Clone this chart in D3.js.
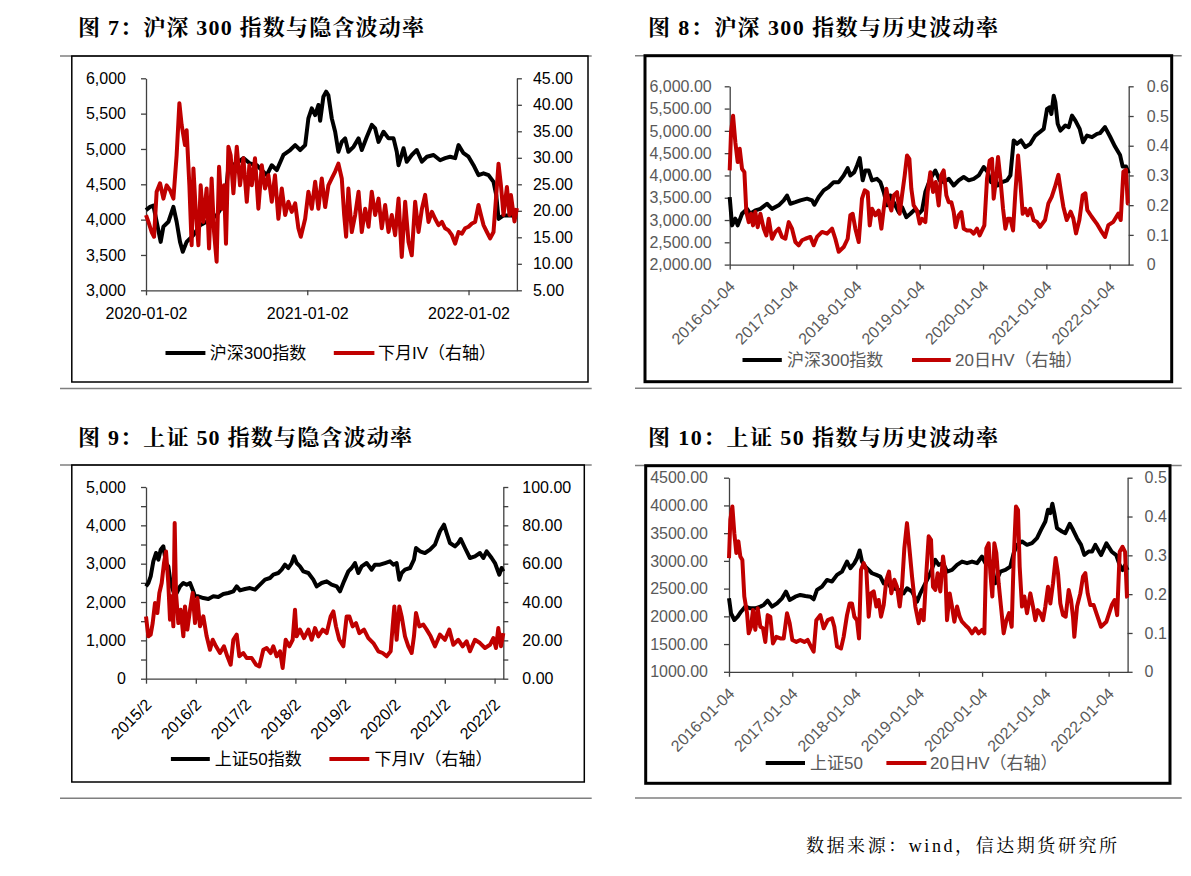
<!DOCTYPE html>
<html>
<head>
<meta charset="utf-8">
<script src="https://cdn.jsdelivr.net/npm/d3@7"></script>
<style>
  body { margin: 0; background: #fff; }
  svg { display: block; }
</style>
</head>
<body>
<svg></svg>
<script>
// time is kept as decimal years

// 图7 沪深300 (left) and 下月IV (right)
const hs300_7 = [[2020.000,4134],[2020.025,4180],[2020.046,4200],[2020.066,3970],[2020.091,3685],[2020.108,3900],[2020.139,3970],[2020.170,4180],[2020.190,3970],[2020.211,3685],[2020.228,3545],[2020.252,3685],[2020.294,3780],[2020.335,3920],[2020.376,3970],[2020.438,4060],[2020.490,4250],[2020.511,4750],[2020.563,4800],[2020.604,4870],[2020.645,4795],[2020.687,4770],[2020.718,4700],[2020.749,4630],[2020.780,4770],[2020.811,4700],[2020.852,4915],[2020.894,4985],[2020.925,5055],[2020.956,4985],[2020.987,5055],[2021.007,5433],[2021.028,5575],[2021.049,5480],[2021.069,5622],[2021.080,5400],[2021.100,5740],[2021.117,5811],[2021.131,5760],[2021.152,5433],[2021.173,5244],[2021.193,4960],[2021.214,5100],[2021.235,5150],[2021.255,4960],[2021.287,5030],[2021.318,5150],[2021.338,4985],[2021.369,5170],[2021.400,5340],[2021.421,5290],[2021.442,5100],[2021.473,5244],[2021.504,5150],[2021.535,5150],[2021.555,4960],[2021.566,4770],[2021.597,5010],[2021.617,4820],[2021.648,4915],[2021.679,4985],[2021.711,4820],[2021.742,4890],[2021.783,4915],[2021.824,4840],[2021.855,4870],[2021.886,4890],[2021.917,4870],[2021.938,5055],[2021.969,4940],[2022.000,4890],[2022.031,4770],[2022.062,4630],[2022.093,4655],[2022.124,4630],[2022.155,4535],[2022.172,4346],[2022.186,4010],[2022.217,4060],[2022.263,4060],[2022.300,4050]];
const iv7 = [[2020.000,19.2],[2020.015,17.9],[2020.035,16.0],[2020.050,15.1],[2020.066,23.6],[2020.087,25.2],[2020.108,22.3],[2020.128,24.8],[2020.149,23.9],[2020.170,22.3],[2020.190,30.5],[2020.207,40.3],[2020.221,36.2],[2020.242,32.4],[2020.252,35.2],[2020.269,24.8],[2020.283,13.5],[2020.294,28.0],[2020.310,19.2],[2020.325,13.5],[2020.339,24.8],[2020.356,17.9],[2020.376,24.2],[2020.391,12.9],[2020.407,26.1],[2020.422,16.0],[2020.438,10.4],[2020.453,28.3],[2020.469,20.4],[2020.484,24.8],[2020.496,13.8],[2020.511,32.1],[2020.525,30.5],[2020.542,23.3],[2020.563,32.1],[2020.583,24.8],[2020.604,29.9],[2020.625,21.7],[2020.641,28.6],[2020.656,24.8],[2020.676,29.9],[2020.697,20.4],[2020.718,28.6],[2020.738,24.2],[2020.759,26.7],[2020.780,21.7],[2020.800,26.7],[2020.821,18.5],[2020.842,24.2],[2020.863,19.2],[2020.883,21.7],[2020.904,19.8],[2020.925,21.4],[2020.945,16.7],[2020.960,15.1],[2020.987,18.5],[2021.007,23.6],[2021.028,20.4],[2021.049,25.5],[2021.069,20.4],[2021.090,26.1],[2021.111,20.7],[2021.131,24.8],[2021.152,26.1],[2021.173,27.4],[2021.193,28.9],[2021.214,26.1],[2021.229,19.2],[2021.241,15.1],[2021.255,24.2],[2021.276,16.0],[2021.297,19.2],[2021.318,23.6],[2021.338,16.0],[2021.359,20.4],[2021.380,17.0],[2021.400,23.6],[2021.421,19.2],[2021.442,22.3],[2021.462,16.7],[2021.483,21.1],[2021.504,16.0],[2021.524,19.2],[2021.545,15.4],[2021.566,22.3],[2021.586,11.3],[2021.607,21.7],[2021.628,14.1],[2021.648,11.6],[2021.669,21.7],[2021.690,16.0],[2021.711,20.4],[2021.731,23.0],[2021.752,17.9],[2021.773,19.8],[2021.793,18.5],[2021.814,17.3],[2021.835,17.9],[2021.855,16.7],[2021.876,16.3],[2021.897,15.4],[2021.917,13.8],[2021.938,16.0],[2021.959,15.7],[2021.979,16.7],[2022.000,17.0],[2022.021,17.6],[2022.041,17.9],[2022.062,21.1],[2022.077,19.2],[2022.093,17.3],[2022.114,16.0],[2022.134,14.8],[2022.155,16.0],[2022.172,23.0],[2022.186,28.9],[2022.201,24.8],[2022.217,19.2],[2022.238,24.5],[2022.254,19.2],[2022.263,23.0],[2022.285,18.0],[2022.300,20.5]];

// 图8 沪深300 (left) and 20日HV (right)
const hs300_8 = [[2016.000,3515],[2016.037,2880],[2016.089,3030],[2016.126,2880],[2016.195,3140],[2016.274,3250],[2016.326,3140],[2016.405,3215],[2016.484,3250],[2016.589,3365],[2016.668,3250],[2016.774,3330],[2016.853,3440],[2016.905,3550],[2016.958,3365],[2017.037,3400],[2017.116,3440],[2017.221,3480],[2017.300,3440],[2017.337,3343],[2017.405,3515],[2017.484,3665],[2017.563,3740],[2017.642,3850],[2017.721,3850],[2017.800,4000],[2017.863,4165],[2017.905,4000],[2017.968,4075],[2018.011,4225],[2018.053,4390],[2018.100,3890],[2018.142,4110],[2018.195,4110],[2018.247,3890],[2018.326,3925],[2018.379,3850],[2018.432,3627],[2018.484,3330],[2018.537,3550],[2018.589,3400],[2018.668,3180],[2018.721,3290],[2018.789,3065],[2018.853,3140],[2018.932,3250],[2018.984,3140],[2019.037,3215],[2019.089,3627],[2019.168,3925],[2019.247,4110],[2019.316,3890],[2019.379,3850],[2019.458,3925],[2019.537,3775],[2019.616,3890],[2019.695,3965],[2019.774,3890],[2019.853,3925],[2019.932,4000],[2020.011,4190],[2020.074,4075],[2020.126,3850],[2020.195,3925],[2020.232,3775],[2020.300,3850],[2020.379,3890],[2020.432,4000],[2020.484,4785],[2020.537,4710],[2020.600,4785],[2020.668,4635],[2020.747,4710],[2020.826,4895],[2020.895,4970],[2020.958,5045],[2021.011,5493],[2021.053,5530],[2021.079,5380],[2021.116,5790],[2021.142,5640],[2021.179,5157],[2021.221,5007],[2021.300,5120],[2021.353,5082],[2021.405,5343],[2021.458,5231],[2021.526,5045],[2021.579,4746],[2021.642,4895],[2021.721,4858],[2021.800,4932],[2021.847,4950],[2021.926,5084],[2022.005,4874],[2022.084,4649],[2022.163,4461],[2022.205,4199],[2022.258,4199],[2022.300,4049]];
const hv8 = [[2016.000,0.317],[2016.021,0.446],[2016.053,0.501],[2016.089,0.412],[2016.126,0.345],[2016.158,0.390],[2016.195,0.322],[2016.232,0.311],[2016.263,0.177],[2016.300,0.143],[2016.337,0.171],[2016.368,0.132],[2016.405,0.177],[2016.442,0.126],[2016.484,0.171],[2016.537,0.121],[2016.579,0.098],[2016.616,0.154],[2016.668,0.087],[2016.721,0.110],[2016.774,0.121],[2016.826,0.093],[2016.879,0.087],[2016.932,0.143],[2016.984,0.121],[2017.037,0.076],[2017.089,0.065],[2017.142,0.082],[2017.195,0.087],[2017.274,0.093],[2017.326,0.065],[2017.379,0.093],[2017.458,0.110],[2017.537,0.104],[2017.616,0.121],[2017.668,0.087],[2017.721,0.043],[2017.800,0.059],[2017.863,0.087],[2017.905,0.166],[2017.942,0.171],[2017.984,0.121],[2018.037,0.076],[2018.089,0.222],[2018.132,0.250],[2018.179,0.244],[2018.211,0.132],[2018.247,0.188],[2018.300,0.166],[2018.353,0.182],[2018.395,0.121],[2018.432,0.188],[2018.474,0.255],[2018.511,0.210],[2018.553,0.182],[2018.589,0.233],[2018.642,0.244],[2018.684,0.171],[2018.721,0.233],[2018.763,0.300],[2018.800,0.367],[2018.837,0.356],[2018.868,0.255],[2018.905,0.199],[2018.958,0.182],[2019.000,0.138],[2019.037,0.154],[2019.089,0.143],[2019.126,0.244],[2019.168,0.311],[2019.211,0.244],[2019.253,0.278],[2019.300,0.199],[2019.337,0.300],[2019.379,0.317],[2019.421,0.233],[2019.458,0.210],[2019.500,0.210],[2019.537,0.177],[2019.568,0.126],[2019.616,0.166],[2019.658,0.177],[2019.695,0.121],[2019.747,0.115],[2019.800,0.115],[2019.853,0.104],[2019.905,0.121],[2019.947,0.098],[2019.984,0.115],[2020.021,0.132],[2020.063,0.289],[2020.105,0.350],[2020.142,0.356],[2020.168,0.222],[2020.200,0.278],[2020.237,0.362],[2020.274,0.289],[2020.316,0.188],[2020.353,0.121],[2020.389,0.154],[2020.432,0.154],[2020.474,0.115],[2020.511,0.244],[2020.553,0.367],[2020.589,0.278],[2020.626,0.171],[2020.668,0.188],[2020.705,0.166],[2020.747,0.188],[2020.800,0.149],[2020.853,0.143],[2020.900,0.127],[2020.979,0.150],[2021.032,0.206],[2021.084,0.228],[2021.137,0.262],[2021.190,0.302],[2021.226,0.251],[2021.268,0.195],[2021.321,0.150],[2021.384,0.178],[2021.426,0.155],[2021.468,0.105],[2021.521,0.150],[2021.574,0.234],[2021.616,0.240],[2021.647,0.183],[2021.716,0.161],[2021.795,0.138],[2021.874,0.110],[2021.926,0.093],[2021.979,0.133],[2022.058,0.144],[2022.137,0.172],[2022.174,0.150],[2022.216,0.313],[2022.258,0.319],[2022.284,0.206],[2022.300,0.206]];

// 图9 上证50 (left) and 下月IV (right)
const sz50_9 = [[2015.100,2409],[2015.147,2496],[2015.194,2670],[2015.247,3061],[2015.301,3278],[2015.348,3104],[2015.395,3365],[2015.448,3452],[2015.502,3017],[2015.548,2930],[2015.595,2496],[2015.649,2278],[2015.716,2235],[2015.783,2409],[2015.850,2496],[2015.917,2452],[2015.984,2496],[2016.037,2322],[2016.084,2148],[2016.151,2148],[2016.251,2104],[2016.352,2078],[2016.452,2148],[2016.552,2130],[2016.653,2209],[2016.753,2235],[2016.854,2278],[2016.921,2409],[2016.988,2304],[2017.088,2339],[2017.188,2365],[2017.289,2322],[2017.389,2452],[2017.490,2583],[2017.590,2626],[2017.657,2713],[2017.757,2757],[2017.824,2843],[2017.891,2974],[2017.958,2887],[2018.025,3017],[2018.072,3191],[2018.125,3017],[2018.192,2930],[2018.259,2800],[2018.360,2757],[2018.460,2583],[2018.527,2409],[2018.627,2496],[2018.728,2539],[2018.828,2452],[2018.929,2409],[2018.996,2278],[2019.076,2539],[2019.163,2800],[2019.230,2887],[2019.297,3017],[2019.364,2757],[2019.431,2930],[2019.531,3017],[2019.632,2843],[2019.698,2974],[2019.799,2974],[2019.899,3017],[2019.999,3061],[2020.067,2974],[2020.133,3017],[2020.187,2583],[2020.234,2757],[2020.301,2843],[2020.401,2887],[2020.481,3104],[2020.522,3409],[2020.602,3322],[2020.702,3278],[2020.803,3365],[2020.903,3496],[2021.003,3844],[2021.084,4017],[2021.137,3800],[2021.204,3539],[2021.305,3452],[2021.372,3539],[2021.419,3644],[2021.506,3409],[2021.606,3148],[2021.706,3191],[2021.807,3278],[2021.874,3148],[2021.941,3322],[2022.041,3148],[2022.108,3017],[2022.195,2713],[2022.242,2887],[2022.275,2800]];
const iv9 = [[2015.100,32.5],[2015.147,22.1],[2015.194,23.0],[2015.234,29.0],[2015.281,39.5],[2015.328,34.3],[2015.368,44.7],[2015.415,49.9],[2015.461,60.3],[2015.502,66.4],[2015.548,49.9],[2015.582,30.8],[2015.615,43.0],[2015.649,27.3],[2015.676,81.2],[2015.702,44.7],[2015.749,29.0],[2015.796,36.0],[2015.850,22.1],[2015.883,37.7],[2015.930,25.6],[2015.984,36.0],[2016.037,44.7],[2016.084,29.0],[2016.131,42.1],[2016.184,27.3],[2016.251,32.5],[2016.318,22.1],[2016.385,15.1],[2016.439,20.3],[2016.506,16.9],[2016.586,13.4],[2016.666,16.9],[2016.733,11.7],[2016.800,7.3],[2016.854,20.3],[2016.921,23.0],[2016.974,11.7],[2017.054,13.4],[2017.121,10.8],[2017.222,10.8],[2017.309,7.3],[2017.376,6.4],[2017.456,15.1],[2017.523,16.0],[2017.603,13.4],[2017.657,16.9],[2017.724,11.7],[2017.791,14.3],[2017.844,5.6],[2017.905,20.3],[2017.978,16.9],[2018.045,20.3],[2018.092,36.0],[2018.125,22.1],[2018.192,25.6],[2018.273,21.2],[2018.360,25.6],[2018.427,20.3],[2018.494,26.4],[2018.561,22.1],[2018.648,25.6],[2018.728,23.8],[2018.808,32.5],[2018.862,35.1],[2018.915,27.3],[2018.982,20.3],[2019.063,16.9],[2019.129,32.5],[2019.183,32.5],[2019.250,27.3],[2019.317,29.0],[2019.384,23.8],[2019.478,25.6],[2019.565,21.2],[2019.665,18.6],[2019.765,14.3],[2019.852,13.4],[2019.933,11.7],[2020.013,14.3],[2020.053,27.3],[2020.087,37.7],[2020.133,20.3],[2020.187,37.7],[2020.234,32.5],[2020.301,22.1],[2020.368,16.9],[2020.435,13.4],[2020.481,22.1],[2020.522,34.3],[2020.589,27.3],[2020.669,28.2],[2020.736,25.6],[2020.816,22.1],[2020.903,16.9],[2021.003,23.0],[2021.104,20.3],[2021.191,25.6],[2021.271,17.7],[2021.372,20.3],[2021.459,16.9],[2021.539,19.5],[2021.606,14.3],[2021.706,20.3],[2021.807,18.6],[2021.907,16.0],[2022.008,17.7],[2022.075,21.2],[2022.128,16.0],[2022.175,26.4],[2022.228,16.9],[2022.275,23.8]];

// 图10 上证50 (left) and 20日HV (right)
const sz50_10 = [[2016.000,2325],[2016.032,2054],[2016.084,1934],[2016.137,1994],[2016.190,2084],[2016.258,2175],[2016.337,2145],[2016.416,2145],[2016.495,2175],[2016.548,2205],[2016.611,2283],[2016.680,2175],[2016.759,2235],[2016.838,2325],[2016.901,2446],[2016.959,2295],[2017.048,2355],[2017.127,2386],[2017.207,2368],[2017.286,2355],[2017.338,2307],[2017.391,2476],[2017.470,2536],[2017.549,2657],[2017.628,2627],[2017.707,2747],[2017.786,2807],[2017.865,2988],[2017.918,2868],[2017.981,2958],[2018.023,3048],[2018.065,3187],[2018.102,2988],[2018.155,2898],[2018.208,2837],[2018.260,2777],[2018.329,2747],[2018.392,2717],[2018.445,2596],[2018.497,2627],[2018.550,2536],[2018.603,2506],[2018.682,2476],[2018.761,2416],[2018.813,2506],[2018.893,2446],[2018.972,2265],[2019.024,2416],[2019.103,2596],[2019.182,2777],[2019.261,3018],[2019.314,2928],[2019.383,2958],[2019.446,2807],[2019.525,2837],[2019.604,2928],[2019.683,2988],[2019.762,2958],[2019.841,2988],[2019.920,2958],[2019.999,3078],[2020.052,2958],[2020.104,3048],[2020.157,2898],[2020.210,2596],[2020.289,2807],[2020.368,2837],[2020.447,2898],[2020.499,3139],[2020.552,3289],[2020.631,3349],[2020.710,3289],[2020.789,3319],[2020.868,3410],[2020.931,3560],[2021.000,3711],[2021.042,3922],[2021.079,3861],[2021.111,4030],[2021.142,3861],[2021.184,3590],[2021.263,3530],[2021.316,3500],[2021.385,3669],[2021.437,3560],[2021.501,3410],[2021.564,3289],[2021.616,3108],[2021.685,3169],[2021.738,3169],[2021.790,3289],[2021.848,3169],[2021.880,3105],[2021.965,3315],[2022.050,3165],[2022.120,3105],[2022.175,2924],[2022.220,2834],[2022.260,2924],[2022.300,2834]];
const hv10 = [[2016.000,0.293],[2016.021,0.392],[2016.053,0.426],[2016.084,0.357],[2016.116,0.306],[2016.148,0.336],[2016.179,0.297],[2016.211,0.288],[2016.242,0.194],[2016.285,0.151],[2016.311,0.099],[2016.348,0.116],[2016.379,0.159],[2016.416,0.108],[2016.453,0.164],[2016.495,0.116],[2016.537,0.112],[2016.574,0.077],[2016.611,0.146],[2016.653,0.142],[2016.695,0.073],[2016.748,0.090],[2016.811,0.086],[2016.864,0.086],[2016.917,0.151],[2016.959,0.125],[2017.001,0.082],[2017.064,0.077],[2017.127,0.082],[2017.191,0.077],[2017.243,0.082],[2017.296,0.065],[2017.338,0.052],[2017.380,0.133],[2017.444,0.146],[2017.496,0.112],[2017.560,0.133],[2017.628,0.138],[2017.665,0.116],[2017.707,0.065],[2017.770,0.060],[2017.812,0.090],[2017.865,0.146],[2017.907,0.176],[2017.944,0.176],[2017.981,0.142],[2018.023,0.133],[2018.055,0.086],[2018.086,0.262],[2018.129,0.280],[2018.171,0.262],[2018.208,0.142],[2018.244,0.202],[2018.287,0.207],[2018.329,0.168],[2018.366,0.185],[2018.403,0.142],[2018.445,0.172],[2018.487,0.237],[2018.529,0.258],[2018.566,0.202],[2018.613,0.237],[2018.655,0.219],[2018.698,0.168],[2018.734,0.219],[2018.771,0.318],[2018.813,0.383],[2018.856,0.310],[2018.893,0.245],[2018.945,0.168],[2018.998,0.125],[2019.035,0.159],[2019.077,0.133],[2019.119,0.254],[2019.156,0.349],[2019.193,0.340],[2019.224,0.219],[2019.261,0.211],[2019.298,0.254],[2019.340,0.207],[2019.383,0.297],[2019.419,0.254],[2019.446,0.133],[2019.488,0.202],[2019.525,0.168],[2019.562,0.129],[2019.604,0.168],[2019.646,0.142],[2019.683,0.129],[2019.736,0.120],[2019.788,0.112],[2019.841,0.099],[2019.894,0.112],[2019.946,0.099],[2019.999,0.108],[2020.036,0.099],[2020.067,0.318],[2020.104,0.331],[2020.131,0.254],[2020.162,0.194],[2020.194,0.331],[2020.225,0.306],[2020.262,0.228],[2020.299,0.168],[2020.341,0.099],[2020.384,0.133],[2020.426,0.151],[2020.468,0.116],[2020.499,0.288],[2020.536,0.426],[2020.568,0.417],[2020.594,0.271],[2020.631,0.168],[2020.668,0.194],[2020.710,0.151],[2020.763,0.202],[2020.805,0.168],[2020.842,0.133],[2020.879,0.159],[2020.921,0.151],[2020.963,0.133],[2021.000,0.168],[2021.042,0.219],[2021.079,0.176],[2021.121,0.228],[2021.163,0.293],[2021.200,0.254],[2021.237,0.176],[2021.279,0.146],[2021.321,0.142],[2021.369,0.211],[2021.406,0.185],[2021.437,0.142],[2021.458,0.090],[2021.501,0.168],[2021.553,0.202],[2021.595,0.245],[2021.632,0.254],[2021.669,0.202],[2021.711,0.172],[2021.764,0.172],[2021.817,0.146],[2021.880,0.116],[2021.965,0.129],[2022.050,0.172],[2022.095,0.185],[2022.135,0.146],[2022.175,0.309],[2022.220,0.322],[2022.260,0.309],[2022.290,0.193],[2022.300,0.190]];

// ticks and labels
const yTicks7L = [3000, 3500, 4000, 4500, 5000, 5500, 6000];
const yTicks7R = [5, 10, 15, 20, 25, 30, 35, 40, 45];
const yTicks8L = [2000, 2500, 3000, 3500, 4000, 4500, 5000, 5500, 6000];
const yTicks8R = [0, 0.1, 0.2, 0.3, 0.4, 0.5, 0.6];
const yTicks9L = [0, 500, 1000, 1500, 2000, 2500, 3000, 3500, 4000, 4500, 5000];
const yShown9L = [0, 1000, 2000, 3000, 4000, 5000];
const yTicks9R = [0, 10, 20, 30, 40, 50, 60, 70, 80, 90, 100];
const yShown9R = [0, 20, 40, 60, 80, 100];
const yTicks10L = [1000, 1500, 2000, 2500, 3000, 3500, 4000, 4500];
const yTicks10R = [0, 0.1, 0.2, 0.3, 0.4, 0.5];
const xTicks7 = [2020, 2021, 2022];
const xLabels7 = ["2020-01-02", "2021-01-02", "2022-01-02"];
const xTicksHV = [2016, 2017, 2018, 2019, 2020, 2021, 2022];
const xLabelsHV = ["2016-01-04", "2017-01-04", "2018-01-04", "2019-01-04", "2020-01-04", "2021-01-04", "2022-01-04"];
const xTicks9 = [2015.1, 2016.1, 2017.1, 2018.1, 2019.1, 2020.1, 2021.1, 2022.1];
const xLabels9 = ["2015/2", "2016/2", "2017/2", "2018/2", "2019/2", "2020/2", "2021/2", "2022/2"];

const fontAxis = "'Liberation Sans', 'Noto Sans CJK SC', sans-serif";
const fontTitle = "'Liberation Serif', 'Noto Serif CJK SC', 'Noto Sans CJK SC', serif";
const hvFmt = d => d === 0 ? "0" : d3.format(".1f")(d);

const svg = d3.select("svg")
    .attr("width", 1191)
    .attr("height", 876);

function panel(c) {
    const g = svg.append("g");

    c.ruleY.forEach(y => {
        g.append("line")
            .attr("x1", c.rule[0]).attr("x2", c.rule[1])
            .attr("y1", y).attr("y2", y)
            .attr("stroke", "#7f7f7f")
            .attr("stroke-width", 1.5);
    });
    g.append("rect")
        .attr("x", c.box[0]).attr("y", c.box[1])
        .attr("width", c.box[2] - c.box[0])
        .attr("height", c.box[3] - c.box[1])
        .attr("fill", "none")
        .attr("stroke", "#000")
        .attr("stroke-width", c.boxW);

    svg.append("text")
        .attr("x", c.titleX).attr("y", c.titleY)
        .attr("textLength", c.titleW).attr("lengthAdjust", "spacing")
        .style("font-family", fontTitle)
        .style("font-size", "22px")
        .style("font-weight", "bold")
        .text(c.title);

    const x = d3.scaleLinear().domain(c.xDomain).range(c.xRange);
    const yL = d3.scaleLinear().domain(c.yLDomain).range(c.yRange);
    const yR = d3.scaleLinear().domain(c.yRDomain).range(c.yRange);

    const shownL = c.yLShown || c.yLTicks;
    const shownR = c.yRShown || c.yRTicks;

    const axL = g.append("g")
        .attr("transform", `translate(${c.xRange[0]},0)`)
        .call(d3.axisLeft(yL).tickValues(c.yLTicks)
            .tickFormat(d => shownL.includes(d) ? c.yLFmt(d) : "")
            .tickSize(5).tickSizeOuter(0).tickPadding(c.padL));
    const axR = g.append("g")
        .attr("transform", `translate(${c.xRange[1]},0)`)
        .call(d3.axisRight(yR).tickValues(c.yRTicks)
            .tickFormat(d => shownR.includes(d) ? c.yRFmt(d) : "")
            .tickSize(5).tickSizeOuter(0).tickPadding(c.padR));
    const axB = g.append("g")
        .attr("transform", `translate(0,${c.yRange[0]})`)
        .call(d3.axisBottom(x).tickValues(c.xTicks)
            .tickFormat((d, i) => c.xLabels[i])
            .tickSize(5).tickSizeOuter(0).tickPadding(12));

    [axL, axR, axB].forEach(a => {
        a.select(".domain").attr("stroke", "#404040").attr("stroke-width", 1.3);
        a.selectAll(".tick line").attr("stroke", "#404040").attr("stroke-width", 1.3);
        a.selectAll("text")
            .attr("fill", c.color)
            .style("font-family", fontAxis)
            .style("font-size", "16px");
    });

    if (c.rotate) {
        axB.selectAll("text")
            .attr("x", 0).attr("y", 0).attr("dy", "0.35em")
            .attr("text-anchor", "end")
            .attr("transform", `translate(2,${c.rotDy}) rotate(-45)`);
    }

    const lineL = d3.line().x(d => x(d[0])).y(d => yL(d[1]));
    const lineR = d3.line().x(d => x(d[0])).y(d => yR(d[1]));

    g.append("path")
        .datum(c.left)
        .attr("d", lineL)
        .attr("fill", "none")
        .attr("stroke", "#000")
        .attr("stroke-width", 4)
        .attr("stroke-linejoin", "round");
    g.append("path")
        .datum(c.right)
        .attr("d", lineR)
        .attr("fill", "none")
        .attr("stroke", "#c00000")
        .attr("stroke-width", 4)
        .attr("stroke-linejoin", "round");

    c.legend.forEach(item => {
        g.append("line")
            .attr("x1", item.x1).attr("x2", item.x2)
            .attr("y1", c.legendY).attr("y2", c.legendY)
            .attr("stroke", item.stroke)
            .attr("stroke-width", 4);
        g.append("text")
            .attr("x", item.tx).attr("y", c.legendY)
            .attr("dy", "0.35em")
            .attr("fill", c.color)
            .style("font-family", fontAxis)
            .style("font-size", "17px")
            .text(item.label);
    });
}

panel({
    title: "图 7：沪深 300 指数与隐含波动率", titleX: 78, titleY: 35, titleW: 346,
    rule: [60, 591.7], ruleY: [56, 388.5], box: [71.8, 56, 588, 382], boxW: 1.5,
    xDomain: [2020, 2022.3], xRange: [146, 516.9], yRange: [290.3, 78.3],
    yLDomain: [3000, 6000], yRDomain: [5, 45],
    yLTicks: yTicks7L, yRTicks: yTicks7R,
    yLFmt: d3.format(","), yRFmt: d3.format(".2f"),
    padL: 15, padR: 11,
    xTicks: xTicks7, xLabels: xLabels7, rotate: false,
    color: "#000",
    left: hs300_7, right: iv7,
    legendY: 353,
    legend: [
        { x1: 165.5, x2: 205.4, tx: 209.8, label: "沪深300指数", stroke: "#000" },
        { x1: 333.8, x2: 374.4, tx: 378, label: "下月IV（右轴）", stroke: "#c00000" }
    ]
});

panel({
    title: "图 8：沪深 300 指数与历史波动率", titleX: 648, titleY: 35, titleW: 350,
    rule: [635, 1181.7], ruleY: [55.7, 388.3], box: [645, 55.7, 1171.7, 381.7], boxW: 3,
    xDomain: [2016, 2022.3], xRange: [729.7, 1128.7], yRange: [264.6, 86.3],
    yLDomain: [2000, 6000], yRDomain: [0, 0.6],
    yLTicks: yTicks8L, yRTicks: yTicks8R,
    yLFmt: d3.format(",.2f"), yRFmt: hvFmt,
    padL: 13, padR: 13,
    xTicks: xTicksHV, xLabels: xLabelsHV, rotate: true, rotDy: 19,
    color: "#595959",
    left: hs300_8, right: hv8,
    legendY: 360,
    legend: [
        { x1: 742.5, x2: 781.8, tx: 787, label: "沪深300指数", stroke: "#000" },
        { x1: 912, x2: 950.7, tx: 955, label: "20日HV（右轴）", stroke: "#c00000" }
    ]
});

panel({
    title: "图 9：上证 50 指数与隐含波动率", titleX: 78, titleY: 445, titleW: 334,
    rule: [60, 591.7], ruleY: [465, 798.3], box: [71.8, 465, 584.3, 782], boxW: 1.5,
    xDomain: [2015.1, 2022.275], xRange: [146, 503.3], yRange: [678.7, 487],
    yLDomain: [0, 5000], yRDomain: [0, 100],
    yLTicks: yTicks9L, yLShown: yShown9L, yRTicks: yTicks9R, yRShown: yShown9R,
    yLFmt: d3.format(","), yRFmt: d3.format(".2f"),
    padL: 15, padR: 14,
    xTicks: xTicks9, xLabels: xLabels9, rotate: true, rotDy: 23,
    color: "#000",
    left: sz50_9, right: iv9,
    legendY: 759,
    legend: [
        { x1: 170.9, x2: 209.8, tx: 214.8, label: "上证50指数", stroke: "#000" },
        { x1: 329.4, x2: 369.3, tx: 374.4, label: "下月IV（右轴）", stroke: "#c00000" }
    ]
});

panel({
    title: "图 10：上证 50 指数与历史波动率", titleX: 648, titleY: 445, titleW: 350,
    rule: [635, 1181.7], ruleY: [465.5, 798], box: [645.7, 465.7, 1170, 783.3], boxW: 3,
    xDomain: [2016, 2022.3], xRange: [729, 1127.6], yRange: [671.8, 477.7],
    yLDomain: [1000, 4500], yRDomain: [0, 0.5],
    yLTicks: yTicks10L, yRTicks: yTicks10R,
    yLFmt: d3.format(".2f"), yRFmt: hvFmt,
    padL: 16, padR: 12,
    xTicks: xTicksHV, xLabels: xLabelsHV, rotate: true, rotDy: 19,
    color: "#595959",
    left: sz50_10, right: hv10,
    legendY: 763,
    legend: [
        { x1: 765.7, x2: 805, tx: 810, label: "上证50", stroke: "#000" },
        { x1: 886.4, x2: 926.4, tx: 930, label: "20日HV（右轴）", stroke: "#c00000" }
    ]
});

svg.append("text")
    .attr("x", 806).attr("y", 852)
    .attr("textLength", 311).attr("lengthAdjust", "spacing")
    .style("font-family", fontTitle)
    .style("font-size", "18px")
    .text("数据来源：wind，信达期货研究所");
</script>
</body>
</html>
